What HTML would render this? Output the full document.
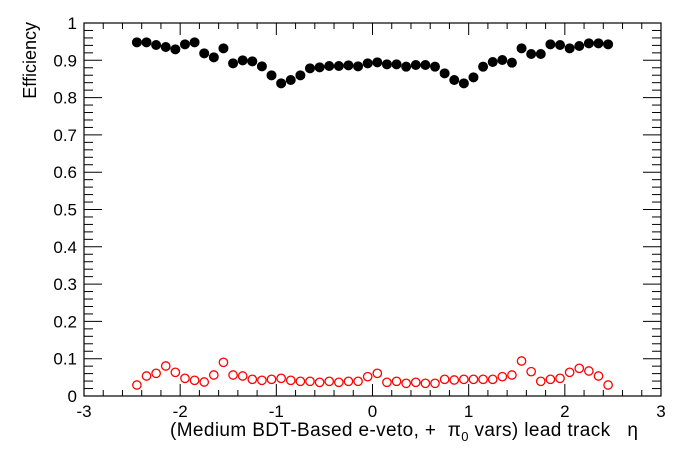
<!DOCTYPE html>
<html><head><meta charset="utf-8"><style>
html,body{margin:0;padding:0;background:#fff;width:696px;height:472px;overflow:hidden}
svg text{font-family:"Liberation Sans",Arial,sans-serif;font-size:17px;fill:#000}
</style></head><body>
<svg id="s" width="696" height="472" viewBox="0 0 696 472" xmlns="http://www.w3.org/2000/svg">
<rect x="84" y="23" width="577" height="373" fill="none" stroke="#000" stroke-width="1.2"/>
<g id="ticks" stroke="#000" stroke-width="1"></g>
<g id="labels"></g>
<g id="pts"></g>
<text x="36" y="22" text-anchor="end" transform="rotate(-90 36 22)" style="font-size:18px">Efficiency</text>
<text x="170" y="436" xml:space="preserve" textLength="468" lengthAdjust="spacing" style="font-size:19px">(Medium BDT-Based e-veto, +  <tspan>π</tspan><tspan dy="5" style="font-size:13px">0</tspan><tspan dy="-5"> vars) lead track   η</tspan></text>
</svg>
<script>
var X0=84,X1=661,Y0=396,Y1=23;
function px(e){return X0+(e+3)/6*(X1-X0);}
function py(v){return Y0-v*(Y0-Y1);}
var t="";
for(var i=0;i<=30;i++){var e=-3+i*0.2,x=px(e),L=(i%5==0)?12:6;
t+='<line x1="'+x+'" y1="396" x2="'+x+'" y2="'+(396-L)+'"/><line x1="'+x+'" y1="23" x2="'+x+'" y2="'+(23+L)+'"/>';}
for(var i=0;i<=50;i++){var y=py(i*0.02),L=(i%5==0)?18:9;
t+='<line x1="84" y1="'+y+'" x2="'+(84+L)+'" y2="'+y+'"/><line x1="661" y1="'+y+'" x2="'+(661-L)+'" y2="'+y+'"/>';}
document.getElementById("ticks").innerHTML=t;
var l="";
for(var i=-3;i<=3;i++){l+='<text x="'+px(i)+'" y="417" text-anchor="middle">'+i+'</text>';}
var yl=["0","0.1","0.2","0.3","0.4","0.5","0.6","0.7","0.8","0.9","1"];
for(var i=0;i<=10;i++){l+='<text x="77" y="'+(py(i/10)+6)+'" text-anchor="end">'+yl[i]+'</text>';}
document.getElementById("labels").innerHTML=l;
var bl=[67,67,75,81,88,73,67,100,112,85,130,121,124,139,166,190,180,166,145,142,138,138,136,139,130];
var br=[127,133,133,140,135,135,140,160,180,190,172,140,126,120,128,85,102,102,73,75,85,78,70,70,73];
var rl=[135,108,100,78,97,115,121,126,105,67,105,108,118,121,118,115,121,124,124,127,124,127,124,124,110];
var rr=[100,127,124,130,127,130,130,118,120,118,118,118,118,110,105,63,95,124,118,115,97,85,93,108,135];
var p="";
for(var i=0;i<50;i++){var e=-2.45+i*0.1,x=px(e);
var by=20+(i<25?bl[i]:br[i-25])/3;
var ry=340+(i<25?rl[i]:rr[i-25])/3;
p+='<circle cx="'+x+'" cy="'+by+'" r="5" fill="#000"/>';
p+='<circle cx="'+x+'" cy="'+ry+'" r="4.2" fill="none" stroke="#f00" stroke-width="1.3"/>';}
document.getElementById("pts").innerHTML=p;
</script>
</body></html>
